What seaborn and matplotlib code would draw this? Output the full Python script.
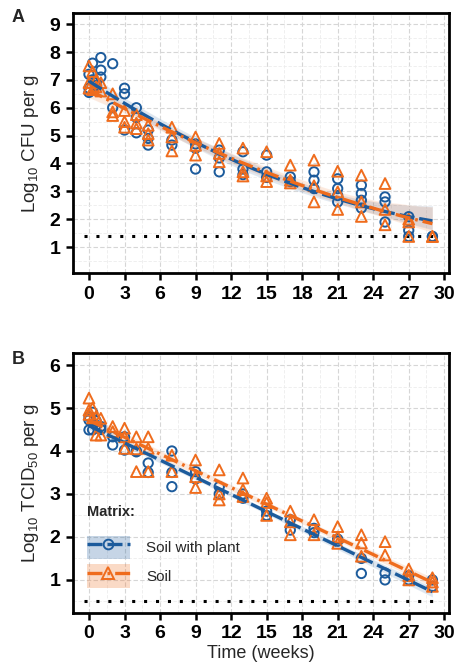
import numpy as np
import pandas as pd
import matplotlib
matplotlib.use("Agg")
import matplotlib.pyplot as plt
from matplotlib.patches import Patch
from matplotlib.lines import Line2D
from matplotlib.ticker import MultipleLocator
import seaborn as sns

# ---------------- data ----------------
matrix_labels = ["Soil with plant", "Soil"]

# Panel A: Log10 CFU per g
weeks_A_plant = [0, 0, 0, 0.3, 0.3, 0.6, 0.6, 1, 1, 1, 2, 2, 3, 3, 3, 4, 4, 4, 5, 5, 5, 7, 7,
                 9, 9, 9, 11, 11, 11, 13, 13, 13, 15, 15, 15, 17, 17, 19, 19, 19,
                 21, 21, 21, 21, 23, 23, 23, 23, 25, 25, 25, 27, 27, 27, 29, 29]
cfu_plant = [7.2, 6.7, 6.55, 7.6, 7.0, 6.9, 6.8, 7.8, 7.35, 7.1, 7.58, 6.0, 6.7, 6.5, 5.2,
             6.0, 5.65, 5.1, 5.2, 4.9, 4.66, 4.84, 4.66, 4.7, 4.55, 3.8, 4.48, 4.2, 3.7,
             4.42, 3.8, 3.6, 4.3, 3.7, 3.5, 3.52, 3.35, 3.7, 3.4, 3.1,
             3.45, 3.1, 2.85, 2.62, 3.22, 2.92, 2.68, 2.4, 2.8, 2.62, 1.9, 2.09, 1.6, 1.38,
             1.38, 1.38]
weeks_A_soil = [0, 0, 0, 0.3, 0.3, 0.6, 0.6, 1, 1, 2, 2, 2, 3, 3, 3, 4, 4, 4, 5, 5, 5,
                7, 7, 7, 9, 9, 9, 11, 11, 11, 13, 13, 13, 15, 15, 15, 17, 17, 17,
                19, 19, 19, 21, 21, 21, 23, 23, 23, 25, 25, 25, 27, 27, 27, 29, 29]
cfu_soil = [7.5, 6.9, 6.7, 7.3, 6.65, 7.0, 6.75, 6.9, 6.6, 6.5, 5.85, 5.72, 5.9, 5.5, 5.3,
            5.75, 5.45, 5.25, 5.37, 5.07, 4.84, 5.3, 4.95, 4.45, 4.95, 4.65, 4.3,
            4.72, 4.36, 4.06, 4.55, 3.7, 3.55, 4.42, 3.55, 3.35, 3.94, 3.4, 3.3,
            4.12, 3.2, 2.62, 3.72, 2.98, 2.35, 3.58, 2.62, 2.1, 3.28, 2.35, 1.8,
            2.0, 1.9, 1.38, 1.38, 1.38]

# Panel B: Log10 TCID50 per g
weeks_B_plant = [0, 0, 0, 0.3, 0.3, 0.6, 0.6, 1, 1, 2, 2, 3, 3, 4, 4, 5, 5, 7, 7, 7,
                 9, 9, 11, 11, 13, 13, 15, 15, 17, 17, 19, 19, 21, 21, 23, 23,
                 25, 25, 27, 27, 29, 29]
tcid_plant = [4.8, 4.72, 4.49, 4.9, 4.49, 4.7, 4.6, 4.57, 4.5, 4.33, 4.14, 4.33, 4.02,
              3.98, 4.0, 3.72, 3.5, 4.0, 3.5, 3.17, 3.52, 3.35, 3.17, 3.0, 3.0, 2.9,
              2.6, 2.5, 2.4, 2.16, 2.2, 2.1, 1.95, 1.9, 1.5, 1.15, 1.16, 1.0,
              1.1, 1.0, 1.0, 0.85]
weeks_B_soil = [0, 0, 0, 0.3, 0.3, 0.6, 0.6, 1, 1, 2, 2, 3, 3, 3, 4, 4, 4, 5, 5, 5,
                7, 7, 9, 9, 9, 11, 11, 11, 13, 13, 13, 15, 15, 15, 17, 17, 17,
                19, 19, 21, 21, 21, 23, 23, 23, 25, 25, 27, 27, 27, 29, 29, 29]
tcid_soil = [5.23, 4.95, 4.85, 5.0, 4.77, 4.8, 4.37, 4.76, 4.37, 4.57, 4.45, 4.53, 4.33,
             4.06, 4.33, 4.05, 3.52, 4.33, 4.06, 3.52, 3.9, 3.52, 3.79, 3.4, 3.15,
             3.56, 3.0, 2.86, 3.37, 3.1, 2.94, 2.9, 2.8, 2.5, 2.6, 2.35, 2.05,
             2.4, 2.05, 2.24, 2.0, 1.85, 2.05, 1.86, 1.55, 1.89, 1.58,
             1.25, 1.1, 1.0, 1.05, 0.95, 0.85]

lod_A = 1.38
lod_B = 0.5
x_ticks = [0, 3, 6, 9, 12, 15, 18, 21, 24, 27, 30]

# ---------------- style ----------------
sns.set_theme(style="white")
plt.rcParams["font.family"] = ["Liberation Sans", "DejaVu Sans"]
plt.rcParams["mathtext.fontset"] = "custom"
plt.rcParams["mathtext.rm"] = "Liberation Sans"

BLUE = "#1c5b9c"
ORANGE = "#ef6c1d"
colors = {"Soil with plant": BLUE, "Soil": ORANGE}
markers = {"Soil with plant": "o", "Soil": "^"}
lstyles = {"Soil with plant": (0, (4.5, 1.5)), "Soil": (0, (4.5, 1.5, 0.8, 1.5))}

dfA = pd.concat([
    pd.DataFrame({"week": weeks_A_plant, "val": cfu_plant, "Matrix": "Soil with plant"}),
    pd.DataFrame({"week": weeks_A_soil, "val": cfu_soil, "Matrix": "Soil"}),
])
dfB = pd.concat([
    pd.DataFrame({"week": weeks_B_plant, "val": tcid_plant, "Matrix": "Soil with plant"}),
    pd.DataFrame({"week": weeks_B_soil, "val": tcid_soil, "Matrix": "Soil"}),
])

fig = plt.figure(figsize=(4.56, 6.71), dpi=100)
axA = fig.add_axes([73 / 456, 1 - 273 / 671, 376 / 456, 260 / 671])
axB = fig.add_axes([73 / 456, 1 - 613 / 671, 376 / 456, 260 / 671])


def draw(ax, df, order, lod, ylim, yticks):
    ax.set_axisbelow(True)
    ax.xaxis.set_minor_locator(MultipleLocator(1.5))
    ax.yaxis.set_minor_locator(MultipleLocator(0.5))
    ax.grid(which="major", ls=(0, (4, 2)), color="#d6d6d6", lw=0.8)
    ax.grid(which="minor", ls=(0, (4, 2)), color="#ececec", lw=0.6)
    for m in matrix_labels:
        sub = df[df["Matrix"] == m]
        sns.scatterplot(data=sub, x="week", y="val", ax=ax, marker=markers[m],
                        facecolor="none", edgecolor=colors[m], linewidth=1.4,
                        s=45 if m == "Soil with plant" else 60, zorder=3, legend=False)
    for m in matrix_labels:
        sub = df[df["Matrix"] == m]
        sns.regplot(data=sub, x="week", y="val", ax=ax, scatter=False, order=order,
                    ci=95, seed=1, color=colors[m], truncate=True,
                    line_kws={"ls": lstyles[m], "lw": 2.4, "zorder": 4})
    ax.plot([-0.4, 29.5], [lod, lod], ls=(0, (1, 2.9)), color="black", lw=2.2,
            zorder=2, dash_capstyle="butt")
    ax.set_xlim(-1.35, 30.4)
    ax.set_ylim(*ylim)
    ax.set_xticks(x_ticks)
    ax.set_yticks(yticks)
    ax.tick_params(axis="both", which="major", direction="out", length=5, width=1.8,
                   labelsize=14, colors="black", left=True, bottom=True, pad=4)
    ax.tick_params(which="minor", length=0)
    for lab in ax.get_xticklabels() + ax.get_yticklabels():
        lab.set_fontweight("bold")
    for sp in ax.spines.values():
        sp.set_visible(True)
        sp.set_color("black")
        sp.set_linewidth(2.0)
    ax.set_xlabel("")


draw(axA, dfA, 2, lod_A, (0.07, 9.4), list(range(1, 10)))
draw(axB, dfB, 1, lod_B, (0.23, 6.28), list(range(1, 7)))

axA.set_ylabel("Log$_{10}$ CFU per g", fontsize=13.5, labelpad=6)
axB.set_ylabel("Log$_{10}$ TCID$_{50}$ per g", fontsize=13.5, labelpad=6)
axB.set_xlabel("Time (weeks)", fontsize=13, labelpad=2)

fig.text(12 / 456, 1 - 18 / 671, "A", fontsize=13, fontweight="bold", va="center")
fig.text(12 / 456, 1 - 360 / 671, "B", fontsize=13, fontweight="bold", va="center")

handles = [
    (Patch(facecolor=BLUE, alpha=0.25, edgecolor="none"),
     Line2D([], [], color=BLUE, ls=lstyles["Soil with plant"], lw=2.4, marker="o",
            mfc="none", mec=BLUE, mew=1.4, ms=7)),
    (Patch(facecolor=ORANGE, alpha=0.25, edgecolor="none"),
     Line2D([], [], color=ORANGE, ls=lstyles["Soil"], lw=2.4, marker="^",
            mfc="none", mec=ORANGE, mew=1.4, ms=8)),
]
leg = axB.legend(handles, matrix_labels, title="Matrix:", loc="lower left",
                 bbox_to_anchor=(0.0, 0.045), frameon=False, fontsize=11,
                 title_fontproperties={"weight": "bold", "size": 10.5},
                 handlelength=2.8, handleheight=1.95, labelspacing=0.35,
                 handletextpad=1.1, borderaxespad=0.5)
leg._legend_box.align = "left"
leg._legend_box.sep = 12

fig.savefig("out.png", dpi=100)
